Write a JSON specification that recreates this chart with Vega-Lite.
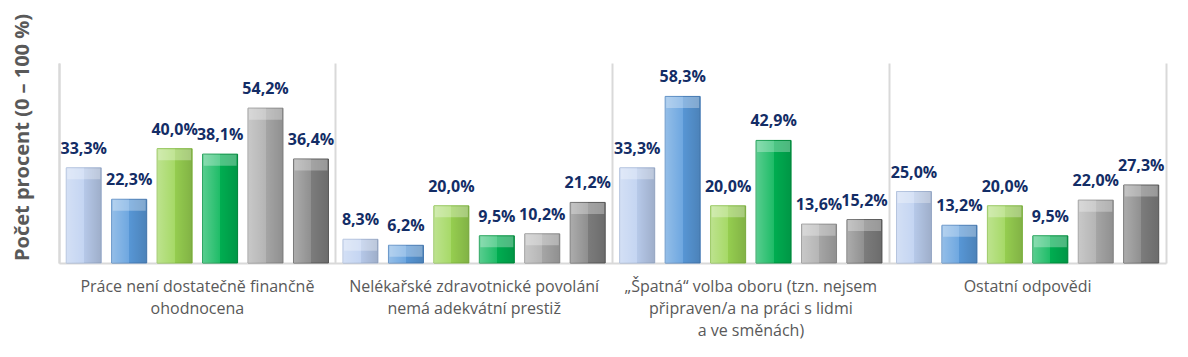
{
  "$schema": "https://vega.github.io/schema/vega-lite/v6.json",
  "width": 1107,
  "height": 200,
  "autosize": {"type": "none"},
  "padding": {"left": 59, "top": 63, "right": 22, "bottom": 94},
  "background": "white",
  "config": {"view": {"stroke": null}, "font": "Open Sans"},
  "data": {
    "values": [
      {"kat": "Práce není dostatečně finančně|ohodnocena", "skupina": "S1", "hodnota": 33.3},
      {"kat": "Práce není dostatečně finančně|ohodnocena", "skupina": "S2", "hodnota": 22.3},
      {"kat": "Práce není dostatečně finančně|ohodnocena", "skupina": "S3", "hodnota": 40.0},
      {"kat": "Práce není dostatečně finančně|ohodnocena", "skupina": "S4", "hodnota": 38.1},
      {"kat": "Práce není dostatečně finančně|ohodnocena", "skupina": "S5", "hodnota": 54.2},
      {"kat": "Práce není dostatečně finančně|ohodnocena", "skupina": "S6", "hodnota": 36.4},
      {"kat": "Nelékařské zdravotnické povolání|nemá adekvátní prestiž", "skupina": "S1", "hodnota": 8.3},
      {"kat": "Nelékařské zdravotnické povolání|nemá adekvátní prestiž", "skupina": "S2", "hodnota": 6.2},
      {"kat": "Nelékařské zdravotnické povolání|nemá adekvátní prestiž", "skupina": "S3", "hodnota": 20.0},
      {"kat": "Nelékařské zdravotnické povolání|nemá adekvátní prestiž", "skupina": "S4", "hodnota": 9.5},
      {"kat": "Nelékařské zdravotnické povolání|nemá adekvátní prestiž", "skupina": "S5", "hodnota": 10.2},
      {"kat": "Nelékařské zdravotnické povolání|nemá adekvátní prestiž", "skupina": "S6", "hodnota": 21.2},
      {"kat": "„Špatná“ volba oboru (tzn. nejsem|připraven/a na práci s lidmi|a ve směnách)", "skupina": "S1", "hodnota": 33.3},
      {"kat": "„Špatná“ volba oboru (tzn. nejsem|připraven/a na práci s lidmi|a ve směnách)", "skupina": "S2", "hodnota": 58.3},
      {"kat": "„Špatná“ volba oboru (tzn. nejsem|připraven/a na práci s lidmi|a ve směnách)", "skupina": "S3", "hodnota": 20.0},
      {"kat": "„Špatná“ volba oboru (tzn. nejsem|připraven/a na práci s lidmi|a ve směnách)", "skupina": "S4", "hodnota": 42.9},
      {"kat": "„Špatná“ volba oboru (tzn. nejsem|připraven/a na práci s lidmi|a ve směnách)", "skupina": "S5", "hodnota": 13.6},
      {"kat": "„Špatná“ volba oboru (tzn. nejsem|připraven/a na práci s lidmi|a ve směnách)", "skupina": "S6", "hodnota": 15.2},
      {"kat": "Ostatní odpovědi", "skupina": "S1", "hodnota": 25.0},
      {"kat": "Ostatní odpovědi", "skupina": "S2", "hodnota": 13.2},
      {"kat": "Ostatní odpovědi", "skupina": "S3", "hodnota": 20.0},
      {"kat": "Ostatní odpovědi", "skupina": "S4", "hodnota": 9.5},
      {"kat": "Ostatní odpovědi", "skupina": "S5", "hodnota": 22.0},
      {"kat": "Ostatní odpovědi", "skupina": "S6", "hodnota": 27.3}
    ]
  },
  "transform": [
    {"calculate": "replace(format(datum.hodnota, '.1f'), '.', ',') + '%'", "as": "popisek"}
  ],
  "encoding": {
    "x": {
      "field": "kat",
      "type": "nominal",
      "sort": [
        "Práce není dostatečně finančně|ohodnocena",
        "Nelékařské zdravotnické povolání|nemá adekvátní prestiž",
        "„Špatná“ volba oboru (tzn. nejsem|připraven/a na práci s lidmi|a ve směnách)",
        "Ostatní odpovědi"
      ],
      "scale": {"paddingInner": 0, "paddingOuter": 0},
      "axis": {
        "title": null,
        "domainColor": "#d9d9d9",
        "domainWidth": 2,
        "ticks": false,
        "grid": true,
        "gridColor": "#d9d9d9",
        "gridWidth": 2,
        "bandPosition": 0,
        "labelExpr": "split(datum.label, '|')",
        "labelFont": "Open Sans",
        "labelFontSize": 16,
        "labelColor": "#595959",
        "labelPadding": 15,
        "labelLineHeight": 22,
        "labelAngle": 0,
        "labelLimit": 0,
        "labelBaseline": "top"
      }
    },
    "xOffset": {
      "field": "skupina",
      "type": "nominal",
      "sort": ["S1", "S2", "S3", "S4", "S5", "S6"],
      "scale": {"paddingInner": 0.23, "paddingOuter": 0.16}
    },
    "y": {"field": "hodnota", "type": "quantitative", "scale": {"domain": [0, 70]}}
  },
  "layer": [
    {
      "mark": {"type": "bar", "strokeWidth": 1},
      "encoding": {
        "y": {
          "field": "hodnota",
          "type": "quantitative",
          "axis": {
            "labels": false,
            "ticks": false,
            "grid": false,
            "domainColor": "#d9d9d9",
            "domainWidth": 2,
            "title": "Počet procent  (0 – 100 %)",
            "titleFont": "Open Sans",
            "titleFontSize": 20,
            "titleFontWeight": "bold",
            "titleColor": "#595959",
            "titleAngle": -90,
            "titleX": -37,
            "titleY": 74,
            "titleAlign": "center",
            "titleBaseline": "middle"
          }
        },
        "color": {
          "field": "skupina",
          "type": "nominal",
          "legend": null,
          "scale": {
            "domain": ["S1", "S2", "S3", "S4", "S5", "S6"],
            "range": ["#bccff0", "#5a9bdc", "#9ad452", "#00b353", "#ababab", "#808080"]
          }
        },
        "stroke": {
          "field": "skupina",
          "type": "nominal",
          "legend": null,
          "scale": {
            "domain": ["S1", "S2", "S3", "S4", "S5", "S6"],
            "range": ["#a6b8d8", "#4a80bd", "#86bd45", "#00913f", "#8f8f8f", "#5e5e5e"]
          }
        }
      }
    },
    {
      "mark": {
        "type": "bar",
        "color": {
          "gradient": "linear",
          "x1": 0, "y1": 0, "x2": 1, "y2": 0,
          "stops": [
            {"offset": 0, "color": "rgba(255,255,255,0.35)"},
            {"offset": 0.5, "color": "rgba(255,255,255,0.12)"},
            {"offset": 0.5, "color": "rgba(0,0,0,0.03)"},
            {"offset": 1, "color": "rgba(0,0,0,0.16)"}
          ]
        }
      },
      "encoding": {
        "y": {"field": "hodnota", "type": "quantitative", "axis": null}
      }
    },
    {
      "mark": {"type": "tick", "orient": "horizontal", "thickness": 11, "yOffset": 6, "color": "white", "opacity": 0.3},
      "encoding": {
        "y": {"field": "hodnota", "type": "quantitative", "axis": null},
        "size": {"value": 33}
      }
    },
    {
      "mark": {"type": "text", "fontSize": 16, "fontWeight": "bold", "font": "Open Sans", "color": "#132d66", "baseline": "alphabetic", "dy": -14},
      "encoding": {
        "y": {
          "field": "hodnota",
          "type": "quantitative",
          "axis": {
            "orient": "right",
            "labels": false,
            "ticks": false,
            "grid": false,
            "title": null,
            "domainColor": "#d9d9d9",
            "domainWidth": 2
          }
        },
        "text": {"field": "popisek", "type": "nominal"}
      }
    }
  ],
  "resolve": {"axis": {"y": "independent"}}
}
